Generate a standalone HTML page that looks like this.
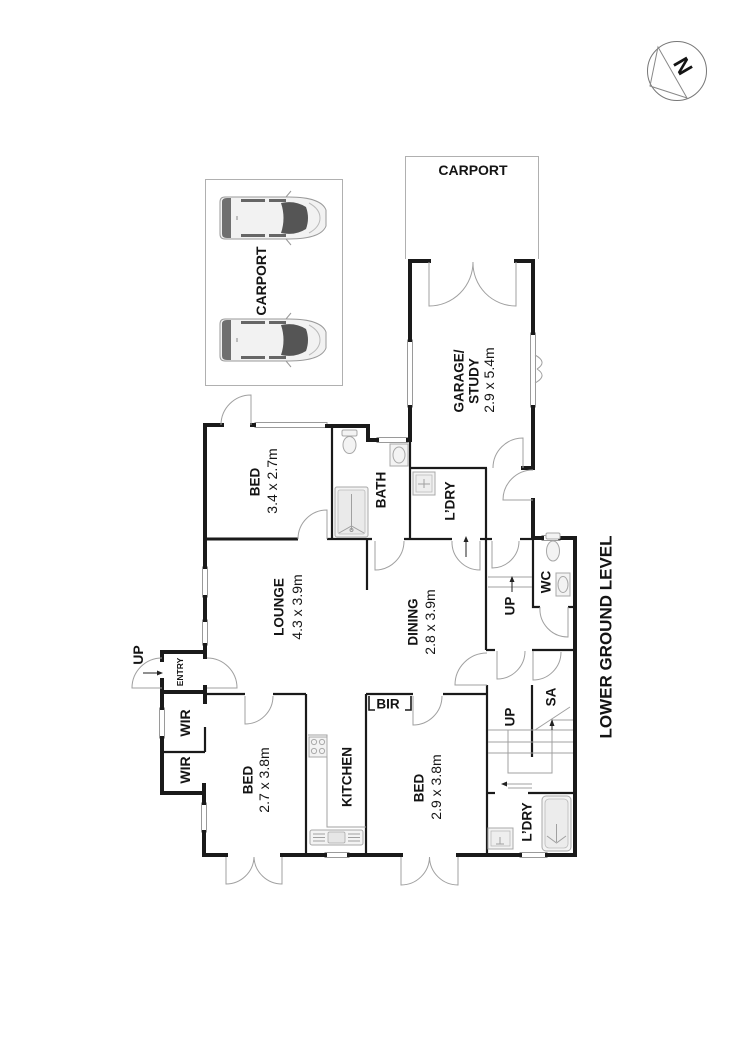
<!DOCTYPE html>
<html><head><meta charset="utf-8"><style>
html,body{margin:0;padding:0;background:#fff;}
svg{display:block;}
.w{stroke:#1a1a1a;stroke-width:4;fill:none;stroke-linecap:square;stroke-linejoin:miter}
.i{stroke:#1a1a1a;stroke-width:2.2;fill:none}
.g{stroke:#a0a0a0;stroke-width:1;fill:none}
.win{fill:#fff;stroke:#9a9a9a;stroke-width:1}
.fx{fill:#f3f3f3;stroke:#a8a8a8;stroke-width:1}
text{font-family:"Liberation Sans",Arial,sans-serif;fill:#141414}
.t{font-weight:bold;font-size:13.5px}
.d{font-size:14px}
</style></head><body>
<svg width="750" height="1061" viewBox="0 0 750 1061" xmlns="http://www.w3.org/2000/svg">
<rect width="750" height="1061" fill="#fff"/>

<!-- compass -->
<circle cx="677" cy="71" r="29.5" fill="none" stroke="#777" stroke-width="1"/>
<polygon points="658,47 650,86 687,98" fill="none" stroke="#888" stroke-width="1"/>
<text x="683" y="66" transform="rotate(60 683 66)" text-anchor="middle" dominant-baseline="central" style="font-weight:bold;font-size:22px">N</text>

<!-- carports -->
<rect x="205.5" y="179.5" width="137" height="206" fill="none" stroke="#b0b0b0" stroke-width="1"/>
<path d="M405.5 259 V156.5 H538.5 V259" fill="none" stroke="#b0b0b0" stroke-width="1"/>

<!-- cars -->
<g transform="translate(219,195)">
 <path d="M6 2 H70 C92 2 104 7 107 15 V31 C104 39 92 44 70 44 H6 Q1 44 1 39 V7 Q1 2 6 2 Z" fill="#f2f2f2" stroke="#9a9a9a"/>
 <path d="M3 7 Q3 3 8 3 H12 V43 H8 Q3 43 3 39 Z" fill="#6f6f6f"/>
 <rect x="22" y="4" width="24" height="3" fill="#666"/><rect x="50" y="4" width="17" height="3" fill="#666"/>
 <rect x="22" y="39" width="24" height="3" fill="#666"/><rect x="50" y="39" width="17" height="3" fill="#666"/>
 <path d="M62 8 Q76 5 87 12 Q91 23 87 34 Q76 41 62 38 Q67 23 62 8 Z" fill="#555"/>
 <path d="M90 8 Q101 14 101 23 Q101 32 90 38" fill="none" stroke="#bbb"/>
 <path d="M67 2 L72 -4 M67 44 L72 50" stroke="#999" fill="none"/>
 <path d="M18 21 V25" stroke="#888"/>
</g>
<g transform="translate(219,317)">
 <path d="M6 2 H70 C92 2 104 7 107 15 V31 C104 39 92 44 70 44 H6 Q1 44 1 39 V7 Q1 2 6 2 Z" fill="#f2f2f2" stroke="#9a9a9a"/>
 <path d="M3 7 Q3 3 8 3 H12 V43 H8 Q3 43 3 39 Z" fill="#6f6f6f"/>
 <rect x="22" y="4" width="24" height="3" fill="#666"/><rect x="50" y="4" width="17" height="3" fill="#666"/>
 <rect x="22" y="39" width="24" height="3" fill="#666"/><rect x="50" y="39" width="17" height="3" fill="#666"/>
 <path d="M62 8 Q76 5 87 12 Q91 23 87 34 Q76 41 62 38 Q67 23 62 8 Z" fill="#555"/>
 <path d="M90 8 Q101 14 101 23 Q101 32 90 38" fill="none" stroke="#bbb"/>
 <path d="M67 2 L72 -4 M67 44 L72 50" stroke="#999" fill="none"/>
 <path d="M18 21 V25" stroke="#888"/>
</g>

<!-- windows -->
<rect class="win" x="407.5" y="340" width="5" height="67"/>
<rect class="win" x="530.5" y="333" width="5" height="74"/>
<path d="M535 355 Q548 362 537 369 M535 383 Q548 376 537 369" class="g"/>
<rect class="win" x="255" y="422.5" width="72" height="5"/>
<rect class="win" x="377" y="437.5" width="31" height="5"/>
<rect class="win" x="542" y="535.5" width="18" height="5"/>
<rect class="win" x="520" y="852.5" width="27" height="5"/>
<rect class="win" x="325" y="852.5" width="24" height="5"/>
<rect class="win" x="201.5" y="803" width="5" height="29"/>
<rect class="win" x="159.5" y="708" width="5" height="30"/>
<rect class="win" x="202.5" y="567" width="5" height="30"/>
<rect class="win" x="202.5" y="620" width="5" height="25"/>

<!-- thick outer walls -->
<path class="w" d="M410 340 V261 H429"/>
<path class="w" d="M516 261 H533 V333"/>
<path class="w" d="M410 407 V440 H408"/>
<path class="w" d="M533 407 V468 H523"/>
<path class="w" d="M533 500 V538 H542"/>
<path class="w" d="M560 538 H575 V855 H547"/>
<path class="w" d="M520 855 H458"/>
<path class="w" d="M401 855 H349"/>
<path class="w" d="M325 855 H282"/>
<path class="w" d="M226 855 H204 V832"/>
<path class="w" d="M204 803 V785"/>
<path class="w" d="M204 793 H162 V738"/>
<path class="w" d="M162 708 V692 H205 V702"/>
<path class="w" d="M162 680 V692"/>
<path class="w" d="M162 660 V652 H205 V657"/>
<path class="w" d="M205 687 V692"/>
<path class="w" d="M205 652 V645"/>
<path class="w" d="M205 620 V597"/>
<path class="w" d="M205 567 V425 H222"/>
<path class="w" d="M252 425 H254"/>
<path class="w" d="M327 426 H368 V440 H377"/>

<!-- inner walls -->
<path class="i" d="M205 539 H298" style="stroke-width:3"/>
<path class="i" d="M332 427 V539"/>
<path class="i" d="M327 539 H372"/>
<path class="i" d="M404 539 H452"/>
<path class="i" d="M480 539 H492"/>
<path class="i" d="M520 539 H533"/>
<path class="i" d="M410 440 V539"/>
<path class="i" d="M410 468 H487"/>
<path class="i" d="M486 468 V650"/>
<path class="i" d="M533 538 V607 H540"/>
<path class="i" d="M568 607 H575"/>
<path class="i" d="M486 650 H495"/>
<path class="i" d="M532 650 H575"/>
<path class="i" d="M487 685 V855"/>
<path class="i" d="M532 685 V757"/>
<path class="i" d="M487 793 H495"/>
<path class="i" d="M528 793 H575"/>
<path class="i" d="M367 539 V590"/>
<path class="i" d="M205 694 H245"/>
<path class="i" d="M273 694 H306"/>
<path class="i" d="M366 694 H413"/>
<path class="i" d="M443 694 H487"/>
<path class="i" d="M306 694 V855"/>
<path class="i" d="M366 694 V855"/>
<path class="i" d="M162 752 H205"/>
<path class="i" d="M205 727 V752"/>
<path class="i" d="M369 696 V710 H375 M405 710 H411 V696" style="stroke-width:1.6"/>

<!-- doors -->
<path class="g" d="M429 262 V306 A44 44 0 0 0 473 262"/>
<path class="g" d="M516 262 V306 A43 43 0 0 1 473 262"/>
<path class="g" d="M523 468 V438 A30 30 0 0 0 493 468"/>
<path class="g" d="M533 500 H503 A30 30 0 0 1 533 470"/>
<path class="g" d="M251 425 V395 A30 30 0 0 0 221 425"/>
<path class="g" d="M327 539 V510 A29 29 0 0 0 298 539"/>
<path class="g" d="M375 541 V570 A29 29 0 0 0 404 541"/>
<path class="g" d="M480 541 V570 A28 28 0 0 1 452 541"/>
<path class="g" d="M492 541 V568 A27 27 0 0 0 519 541"/>
<path class="g" d="M568 607 V637 A28 28 0 0 1 540 607"/>
<path class="g" d="M487 685 H455 A32 32 0 0 1 487 653"/>
<path class="g" d="M497 651 V679 A28 28 0 0 0 525 651"/>
<path class="g" d="M533 651 V680 A28 28 0 0 0 561 652"/>
<path class="g" d="M245 696 V724 A28 28 0 0 0 273 696"/>
<path class="g" d="M413 696 V725 A29 29 0 0 0 442 696"/>
<path class="g" d="M226 857 V884 A28 28 0 0 0 254 857"/>
<path class="g" d="M282 857 V884 A28 28 0 0 1 254 857"/>
<path class="g" d="M401 857 V885 A28.5 28.5 0 0 0 429.5 857"/>
<path class="g" d="M458 857 V885 A28.5 28.5 0 0 1 429.5 857"/>
<path class="g" d="M162 658 A30 30 0 0 0 132 688 H162"/>
<path class="g" d="M207 658 A30 30 0 0 1 237 688 H207"/>

<!-- fixtures: bath -->
<rect class="fx" x="342" y="430" width="15" height="6" rx="1.5"/>
<ellipse class="fx" cx="349.5" cy="445" rx="6.5" ry="8.5"/>
<rect class="fx" x="390" y="444" width="18" height="22"/>
<ellipse class="fx" cx="399" cy="455" rx="6" ry="8"/>
<rect class="fx" x="335" y="487" width="33" height="50" rx="2"/>
<rect x="338" y="490" width="27" height="44" rx="2" fill="#eaeaea" stroke="#bbb" stroke-width="0.8"/>
<path class="g" d="M351.5 494 V530 M339 533 L351.5 526 L364 533"/>
<circle cx="351.5" cy="530" r="1.5" fill="none" stroke="#999"/>
<!-- laundry upper -->
<rect class="fx" x="413" y="472" width="22" height="23"/>
<rect x="416" y="475" width="16" height="17" fill="#eee" stroke="#bbb" stroke-width="0.8"/>
<path class="g" d="M418 484 H430 M424 479 V488"/>
<!-- WC -->
<rect class="fx" x="546" y="533" width="14" height="6" rx="1.5"/>
<ellipse class="fx" cx="553" cy="551" rx="6.5" ry="10"/>
<rect class="fx" x="556" y="573" width="14" height="23"/>
<ellipse class="fx" cx="563" cy="584.5" rx="5" ry="8"/>
<!-- kitchen -->
<path class="g" d="M308 735 H327 V827 H366"/>
<rect class="fx" x="309" y="737" width="18" height="20"/>
<circle cx="314" cy="742" r="2.6" fill="none" stroke="#aaa"/>
<circle cx="322" cy="742" r="2.6" fill="none" stroke="#aaa"/>
<circle cx="314" cy="751" r="2.6" fill="none" stroke="#aaa"/>
<circle cx="322" cy="751" r="2.6" fill="none" stroke="#aaa"/>
<rect class="fx" x="310" y="830" width="53" height="15" rx="2"/>
<rect x="328" y="832" width="17" height="11" rx="1.5" fill="#e6e6e6" stroke="#aaa" stroke-width="0.8"/>
<path class="g" d="M313 834 H325 M313 837.5 H325 M313 841 H325 M348 834 H360 M348 837.5 H360 M348 841 H360"/>
<!-- lower laundry & bath tub -->
<rect class="fx" x="488" y="828" width="25" height="21"/>
<rect x="491" y="831" width="19" height="15" fill="#eee" stroke="#bbb" stroke-width="0.8"/>
<path class="g" d="M500 837 V844 M496 844 H504"/>
<rect class="fx" x="542" y="796" width="29" height="55" rx="4"/>
<rect x="545" y="799" width="23" height="49" rx="4" fill="#ececec" stroke="#bbb" stroke-width="0.8"/>
<path class="g" d="M556.5 824 V842 M547 836 L556.5 843 L566 836"/>

<!-- stairs upper -->
<path class="g" d="M488 577 H532 M488 587 H532"/>
<path d="M512 592 V580" stroke="#222" stroke-width="1"/>
<path d="M509.5 582 L512 576 L514.5 582 Z" fill="#222"/>
<!-- laundry door arrow -->
<path d="M466 557 V540" stroke="#222" stroke-width="1"/>
<path d="M463.5 542 L466 536 L468.5 542 Z" fill="#222"/>
<!-- stairs lower -->
<path class="g" d="M552 720 H573 M488 730 H573 M488 742 H573 M488 753 H573"/>
<path class="g" d="M535 730 L570 707"/>
<path class="g" d="M508 730 V773 H552 V724"/>
<path d="M552 730 V724" stroke="#222" stroke-width="1"/>
<path d="M549.5 726 L552 719 L554.5 726 Z" fill="#222"/>
<path class="g" d="M505 784 H532 M508 788 H532"/>
<path d="M501 784 L507 781.5 L507 786.5 Z" fill="#222"/>
<!-- entry arrow -->
<path d="M143 673 H158" stroke="#222" stroke-width="1"/>
<path d="M157 670.5 L163 673 L157 675.5 Z" fill="#222"/>

<!-- labels -->
<text x="473" y="170" text-anchor="middle" dominant-baseline="central" style="font-weight:bold;font-size:14px">CARPORT</text>
<text x="261" y="281" transform="rotate(-90 261 281)" text-anchor="middle" dominant-baseline="central" style="font-weight:bold;font-size:14px">CARPORT</text>

<text class="t" x="459" y="381" transform="rotate(-90 459 381)" text-anchor="middle" dominant-baseline="central">GARAGE/</text>
<text class="t" x="474" y="381" transform="rotate(-90 474 381)" text-anchor="middle" dominant-baseline="central">STUDY</text>
<text class="d" x="489" y="380" transform="rotate(-90 489 380)" text-anchor="middle" dominant-baseline="central">2.9 x 5.4m</text>

<text class="t" x="255" y="482" transform="rotate(-90 255 482)" text-anchor="middle" dominant-baseline="central">BED</text>
<text class="d" x="272" y="481" transform="rotate(-90 272 481)" text-anchor="middle" dominant-baseline="central">3.4 x 2.7m</text>

<text class="t" x="381" y="490" transform="rotate(-90 381 490)" text-anchor="middle" dominant-baseline="central">BATH</text>
<text class="t" x="450" y="501" transform="rotate(-90 450 501)" text-anchor="middle" dominant-baseline="central">L’DRY</text>

<text class="t" x="279" y="607" transform="rotate(-90 279 607)" text-anchor="middle" dominant-baseline="central">LOUNGE</text>
<text class="d" x="297" y="607" transform="rotate(-90 297 607)" text-anchor="middle" dominant-baseline="central">4.3 x 3.9m</text>

<text class="t" x="413" y="622" transform="rotate(-90 413 622)" text-anchor="middle" dominant-baseline="central">DINING</text>
<text class="d" x="430" y="622" transform="rotate(-90 430 622)" text-anchor="middle" dominant-baseline="central">2.8 x 3.9m</text>

<text x="138" y="655" transform="rotate(-90 138 655)" text-anchor="middle" dominant-baseline="central" style="font-weight:bold;font-size:14px">UP</text>
<text x="180" y="672" transform="rotate(-90 180 672)" text-anchor="middle" dominant-baseline="central" style="font-weight:bold;font-size:8.5px">ENTRY</text>

<text x="185" y="723" transform="rotate(-90 185 723)" text-anchor="middle" dominant-baseline="central" style="font-weight:bold;font-size:14px">WIR</text>
<text x="185" y="770" transform="rotate(-90 185 770)" text-anchor="middle" dominant-baseline="central" style="font-weight:bold;font-size:14px">WIR</text>

<text class="t" x="248" y="780" transform="rotate(-90 248 780)" text-anchor="middle" dominant-baseline="central">BED</text>
<text class="d" x="264" y="780" transform="rotate(-90 264 780)" text-anchor="middle" dominant-baseline="central">2.7 x 3.8m</text>

<text class="t" x="347" y="777" transform="rotate(-90 347 777)" text-anchor="middle" dominant-baseline="central">KITCHEN</text>

<text class="t" x="388" y="704" text-anchor="middle" dominant-baseline="central">BIR</text>

<text class="t" x="419" y="788" transform="rotate(-90 419 788)" text-anchor="middle" dominant-baseline="central">BED</text>
<text class="d" x="436" y="787" transform="rotate(-90 436 787)" text-anchor="middle" dominant-baseline="central">2.9 x 3.8m</text>

<text class="t" x="546" y="582" transform="rotate(-90 546 582)" text-anchor="middle" dominant-baseline="central">WC</text>
<text class="t" x="510" y="606" transform="rotate(-90 510 606)" text-anchor="middle" dominant-baseline="central">UP</text>
<text class="t" x="551" y="697" transform="rotate(-90 551 697)" text-anchor="middle" dominant-baseline="central">SA</text>
<text class="t" x="510" y="717" transform="rotate(-90 510 717)" text-anchor="middle" dominant-baseline="central">UP</text>
<text class="t" x="527" y="822" transform="rotate(-90 527 822)" text-anchor="middle" dominant-baseline="central">L’DRY</text>

<text x="606" y="637" transform="rotate(-90 606 637)" text-anchor="middle" dominant-baseline="central" style="font-weight:bold;font-size:17px">LOWER GROUND LEVEL</text>
</svg>
</body></html>
